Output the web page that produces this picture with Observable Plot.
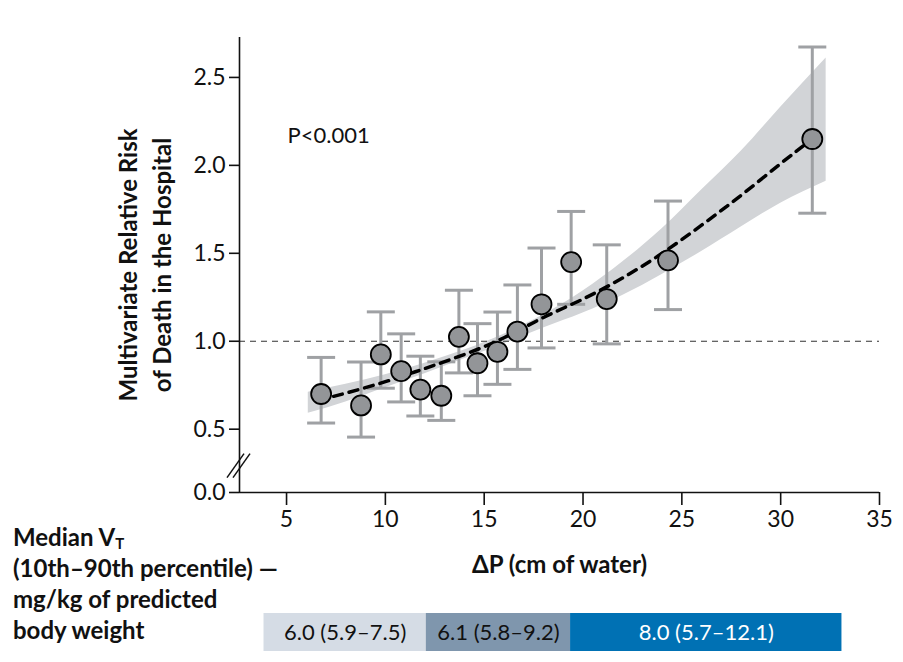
<!DOCTYPE html>
<html>
<head>
<meta charset="utf-8">
<script src="https://cdn.jsdelivr.net/npm/d3@7"></script>
<script src="https://cdn.jsdelivr.net/npm/@observablehq/plot@0.6"></script>
<style>
  html, body { margin: 0; padding: 0; background: #fff; }
  #wrap { position: relative; width: 903px; height: 662px; overflow: hidden; font-family: Lato, "Open Sans", sans-serif; }
  #main { position: absolute; left: 0; top: 0; }
  #vt { position: absolute; left: 0; top: 613px; }
  #side { position: absolute; left: 13px; top: 523px; font-weight: bold; font-size: 24px; color: #111; white-space: nowrap; }
  #side div { height: 31px; line-height: 28px; }
  #side sub { font-size: 15px; vertical-align: -3px; line-height: 0; }
</style>
</head>
<body>
<div id="wrap">
  <div id="main"></div>
  <div id="vt"></div>
  <div id="side"><div>Median V<sub>T</sub></div><div>(10th–90th percentile) —</div><div>mg/kg of predicted</div><div>body weight</div></div>
</div>
<script>
// ---- Data ----
const deltaP   = [6.75, 8.77, 9.77, 10.8, 11.77, 12.83, 13.72, 14.66, 15.67, 16.68, 17.9, 19.4, 21.2, 24.3, 31.6];
const riskRR   = [0.70, 0.635, 0.925, 0.83, 0.725, 0.69, 1.025, 0.875, 0.94, 1.055, 1.21, 1.45, 1.24, 1.46, 2.15];
const riskLow  = [0.535, 0.455, 0.733, 0.655, 0.575, 0.55, 0.82, 0.69, 0.755, 0.84, 0.962, 1.21, 0.985, 1.18, 1.728];
const riskHigh = [0.908, 0.882, 1.167, 1.042, 0.915, 0.883, 1.29, 1.10, 1.166, 1.32, 1.53, 1.738, 1.548, 1.797, 2.673];

const fitX = [6.6, 8, 10, 12, 14, 16, 18, 20, 22, 24, 26, 28, 30, 31.6];
const fitY = [0.665, 0.705, 0.77, 0.845, 0.925, 1.02, 1.135, 1.24, 1.36, 1.50, 1.66, 1.83, 2.01, 2.15];

const ciX     = [6.1, 8, 10, 12, 14, 16, 18, 20, 22, 24, 26, 28, 30, 32.3];
const ciUpper = [0.71, 0.755, 0.81, 0.875, 0.95, 1.04, 1.15, 1.285, 1.45, 1.64, 1.86, 2.08, 2.33, 2.61];
const ciLower = [0.59, 0.655, 0.735, 0.815, 0.90, 0.985, 1.075, 1.16, 1.26, 1.38, 1.51, 1.65, 1.785, 1.91];

const xTicks = [5, 10, 15, 20, 25, 30, 35];
const yTicks = [0.14, 0.5, 1.0, 1.5, 2.0, 2.5];        // 0.14 = bottom of the broken axis
const yTickLabels = ["0.0", "0.5", "1.0", "1.5", "2.0", "2.5"];
const xDomain = [2.62, 35];
const yDomain = [0.14, 2.727];
const refRisk = 1.0;
const yBreak = 0.29;

const vtStart  = [3.86, 12.07, 19.37];
const vtEnd    = [12.07, 19.37, 33.1];
const vtLabels = ["6.0 (5.9–7.5)", "6.1 (5.8–9.2)", "8.0 (5.7–12.1)"];
const vtColors = ["#d5dce5", "#7f96ad", "#0071b4"];
const vtText   = ["#111111", "#111111", "#ffffff"];

const yTitle = "Multivariate Relative Risk\nof Death in the Hospital";
const xTitle = "ΔP (cm of water)";
const pText = "P<0.001";

// ---- Build tables ----
const points = deltaP.map((x, i) => ({x, y: riskRR[i], lo: riskLow[i], hi: riskHigh[i]}));
const fit = fitX.map((x, i) => ({x, y: fitY[i]}));
const ci = ciX.map((x, i) => ({x, lo: ciLower[i], hi: ciUpper[i]}));
const vt = vtLabels.map((label, i) => ({x1: vtStart[i], x2: vtEnd[i], label, fill: vtColors[i], text: vtText[i]}));

const capSymbol = {
  draw(ctx, size) {
    const w = Math.sqrt(size / Math.PI);
    ctx.moveTo(-w, 0);
    ctx.lineTo(w, 0);
  }
};

const gray = "#9fa1a4";
const font = "Lato, 'Open Sans', sans-serif";

const breakMark = (index, scales) => {
  const g = d3.create("svg:g");
  const cx = scales.x(xDomain[0]);
  const cy = scales.y(yBreak);
  for (const off of [-3, 3]) {
    g.append("line")
      .attr("x1", cx - 9 + off).attr("y1", cy + 12)
      .attr("x2", cx + 8 + off).attr("y2", cy - 12)
      .attr("stroke", "#111").attr("stroke-width", 1.5);
  }
  return g.node();
};

const main = Plot.plot({
  width: 903,
  height: 600,
  marginLeft: 239,
  marginRight: 24,
  marginTop: 37,
  marginBottom: 108,
  style: {fontFamily: font, fontSize: "23px", color: "#111", background: "#fff"},
  x: {domain: xDomain, axis: null},
  y: {domain: yDomain, axis: null},
  marks: [
    Plot.areaY(ci, {x: "x", y1: "lo", y2: "hi", fill: "#d2d4d7", curve: "monotone-x"}),
    Plot.ruleY([refRisk], {stroke: "#333", strokeWidth: 1.2, strokeDasharray: "6,5"}),
    Plot.ruleX(points, {x: "x", y1: "lo", y2: "hi", stroke: gray, strokeWidth: 3}),
    Plot.dot(points, {x: "x", y: "lo", symbol: capSymbol, r: 14, stroke: gray, strokeWidth: 3, fill: "none"}),
    Plot.dot(points, {x: "x", y: "hi", symbol: capSymbol, r: 14, stroke: gray, strokeWidth: 3, fill: "none"}),
    Plot.line(fit, {x: "x", y: "y", stroke: "#000", strokeWidth: 3.5, strokeDasharray: "9,7", curve: "natural"}),
    Plot.dot(points, {x: "x", y: "y", r: 10, fill: "#939598", stroke: "#000", strokeWidth: 1.8}),
    Plot.ruleX([xDomain[0]], {stroke: "#111", strokeWidth: 1.6}),
    Plot.ruleY([yDomain[0]], {stroke: "#111", strokeWidth: 1.6}),
    breakMark,
    Plot.axisX(xTicks, {tickSize: 13, tickPadding: 5, tickFormat: d => String(d), fontSize: 23, stroke: "#111", strokeWidth: 1.6, label: null}),
    Plot.axisY(yTicks, {tickSize: 10, tickPadding: 4, tickFormat: d => yTickLabels[yTicks.indexOf(d)], fontSize: 23, stroke: "#111", strokeWidth: 1.6, label: null}),
    Plot.text([pText], {frameAnchor: "top-left", dx: 48, dy: 90, textAnchor: "start", fontSize: 22, fill: "#111"}),
    Plot.text([xTitle], {frameAnchor: "bottom", dy: 80, fontSize: 24, fontWeight: "bold", fill: "#111"}),
    Plot.text([yTitle], {frameAnchor: "left", dx: -96, rotate: -90, textAnchor: "middle", fontSize: 24, fontWeight: "bold", fill: "#111", lineHeight: 1.42})
  ]
});
document.getElementById("main").appendChild(main);

const band = Plot.plot({
  width: 903,
  height: 38,
  marginLeft: 239,
  marginRight: 24,
  marginTop: 0,
  marginBottom: 0,
  style: {fontFamily: font, fontSize: "22px", background: "transparent"},
  x: {domain: xDomain, axis: null},
  marks: [
    Plot.rect(vt, {x1: "x1", x2: "x2", fill: "fill"}),
    Plot.text(vt, {x: d => (d.x1 + d.x2) / 2, text: "label", fill: "text", fontSize: 22, frameAnchor: "middle"})
  ]
});
document.getElementById("vt").appendChild(band);
</script>
</body>
</html>
